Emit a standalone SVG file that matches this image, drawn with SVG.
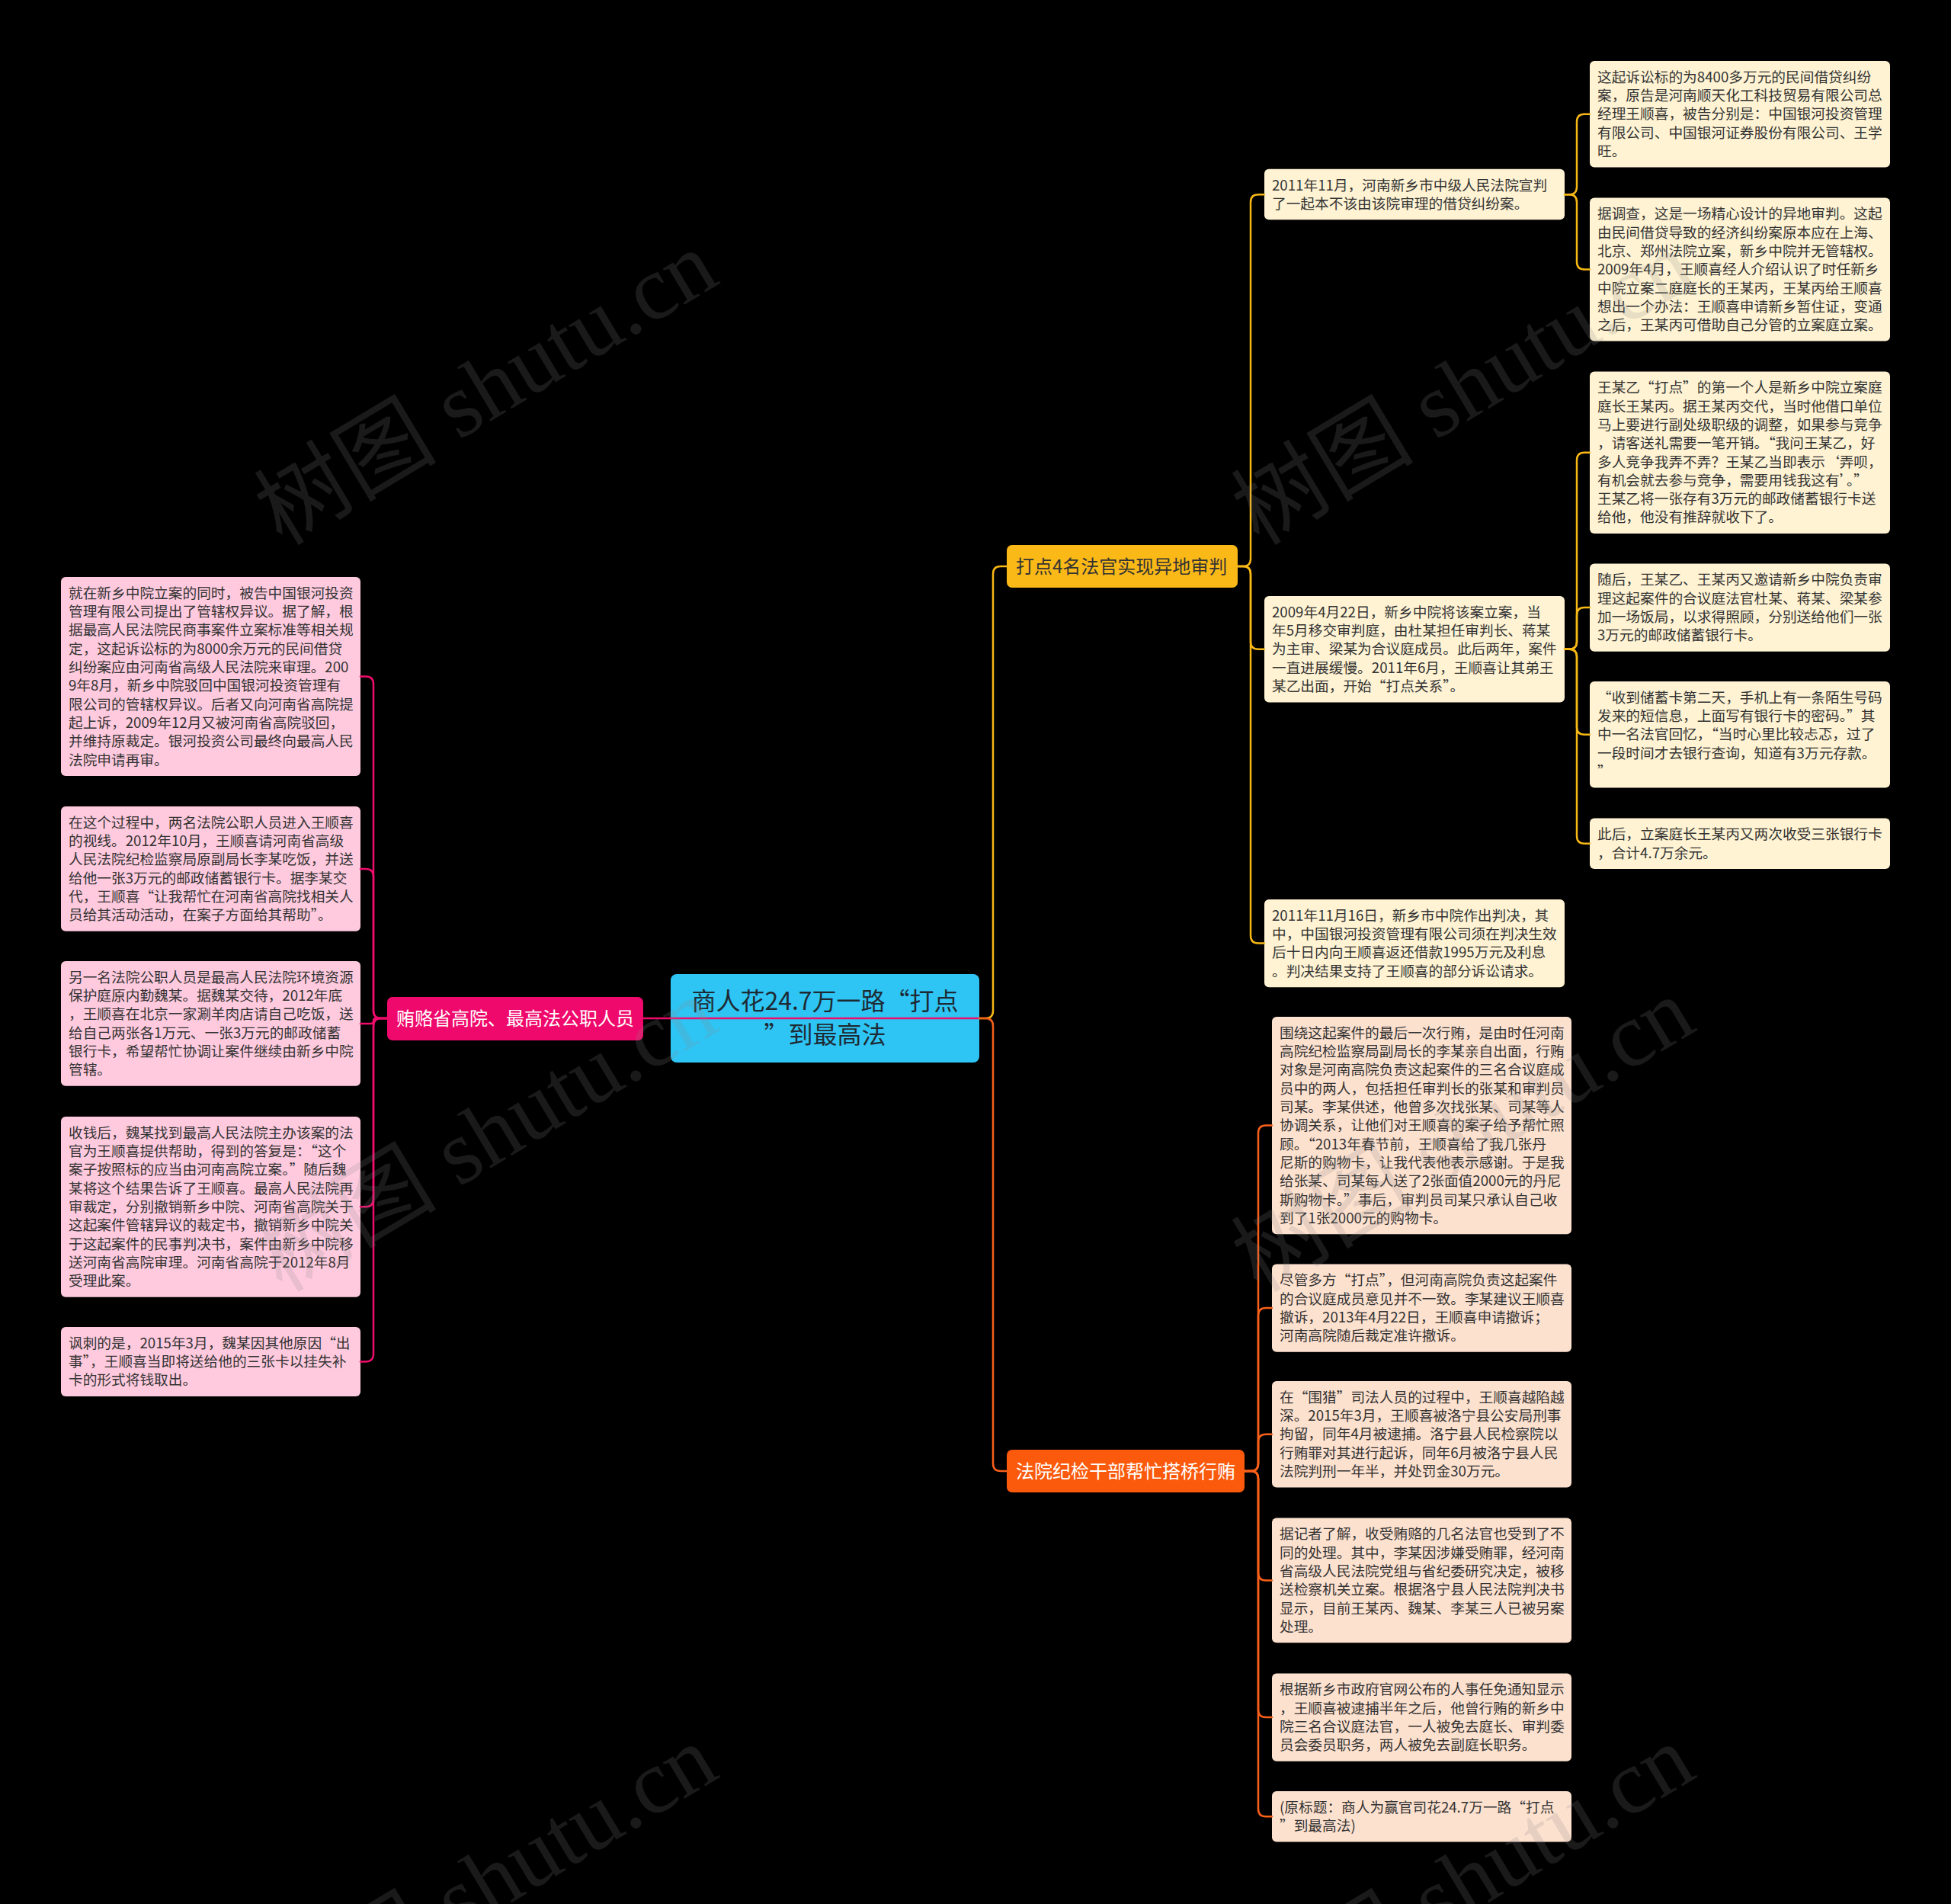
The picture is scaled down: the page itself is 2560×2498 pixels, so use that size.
<svg xmlns="http://www.w3.org/2000/svg" width="2560" height="2498" viewBox="0 0 2560 2498">
<style>
.t{font-family:"Noto Sans CJK SC","Noto Sans",sans-serif;font-size:18.7px;fill:#333}
.bt{font-family:"Noto Sans CJK SC","Noto Sans",sans-serif;font-size:24px}
.rt{font-family:"Noto Sans CJK SC","Noto Sans",sans-serif;font-size:32px;fill:#1e2a33}
.cream{fill:#fff3d3}
.peach{fill:#fde1cf}
.pink{fill:#ffcade}
.c{fill:none;stroke-width:2.5;stroke-linecap:round}
.y{stroke:#f8b816}
.o{stroke:#f9601a}
.p{stroke:#ef0d6c}
.wm{font-family:"Liberation Serif","Noto Sans CJK SC",serif;font-size:120px;fill:#888;opacity:0.19}
</style>
<rect width="2560" height="2498" fill="#000"/>

<g id="root">
<rect x="880" y="1278" width="405" height="116" rx="8" fill="#2ec5f5"/>
<text class="rt" text-anchor="middle"><tspan x="1082.5" y="1325">商人花24.7万一路“打点</tspan><tspan x="1082.5" y="1369">”到最高法</tspan></text>
</g>

<g id="branch-left">
<rect x="508" y="1308" width="336" height="57" rx="7" fill="#f0096c"/>
<text class="bt" x="520" y="1344.5" fill="#fff">贿赂省高院、最高法公职人员</text>
</g>
<g id="branch-1">
<rect x="1321" y="715" width="303" height="56" rx="7" fill="#fbb917"/>
<text class="bt" x="1333" y="751.5" fill="#333">打点4名法官实现异地审判</text>
</g>
<g id="branch-2">
<rect x="1321" y="1902" width="312" height="56" rx="7" fill="#fb5a0c"/>
<text class="bt" x="1333" y="1938.5" fill="#fff">法院纪检干部帮忙搭桥行贿</text>
</g>

<g id="m1"><rect class="cream" x="1659" y="221.7" width="394" height="66.6" rx="6"/>
<text class="t" x="1669" y="249.5">2011年11月，河南新乡市中级人民法院宣判<tspan x="1669" dy="24.3">了一起本不该由该院审理的借贷纠纷案。</tspan></text></g>
<g id="m2"><rect class="cream" x="1659" y="782" width="394" height="139.5" rx="6"/>
<text class="t" x="1669" y="809.8">2009年4月22日，新乡中院将该案立案，当<tspan x="1669" dy="24.3">年5月移交审判庭，由杜某担任审判长、蒋某</tspan><tspan x="1669" dy="24.3">为主审、梁某为合议庭成员。此后两年，案件</tspan><tspan x="1669" dy="24.3">一直进展缓慢。2011年6月，王顺喜让其弟王</tspan><tspan x="1669" dy="24.3">某乙出面，开始“打点关系”。</tspan></text></g>
<g id="m3"><rect class="cream" x="1659" y="1180" width="394" height="115.2" rx="6"/>
<text class="t" x="1669" y="1207.8">2011年11月16日，新乡市中院作出判决，其<tspan x="1669" dy="24.3">中，中国银河投资管理有限公司须在判决生效</tspan><tspan x="1669" dy="24.3">后十日内向王顺喜返还借款1995万元及利息</tspan><tspan x="1669" dy="24.3">。判决结果支持了王顺喜的部分诉讼请求。</tspan></text></g>

<g id="r1"><rect class="cream" x="2086" y="80" width="394" height="139.5" rx="6"/>
<text class="t" x="2096" y="107.8">这起诉讼标的为8400多万元的民间借贷纠纷<tspan x="2096" dy="24.3">案，原告是河南顺天化工科技贸易有限公司总</tspan><tspan x="2096" dy="24.3">经理王顺喜，被告分别是：中国银河投资管理</tspan><tspan x="2096" dy="24.3">有限公司、中国银河证券股份有限公司、王学</tspan><tspan x="2096" dy="24.3">旺。</tspan></text></g>
<g id="r2"><rect class="cream" x="2086" y="259.5" width="394" height="188.1" rx="6"/>
<text class="t" x="2096" y="287.3">据调查，这是一场精心设计的异地审判。这起<tspan x="2096" dy="24.3">由民间借贷导致的经济纠纷案原本应在上海、</tspan><tspan x="2096" dy="24.3">北京、郑州法院立案，新乡中院并无管辖权。</tspan><tspan x="2096" dy="24.3">2009年4月，王顺喜经人介绍认识了时任新乡</tspan><tspan x="2096" dy="24.3">中院立案二庭庭长的王某丙，王某丙给王顺喜</tspan><tspan x="2096" dy="24.3">想出一个办法：王顺喜申请新乡暂住证，变通</tspan><tspan x="2096" dy="24.3">之后，王某丙可借助自己分管的立案庭立案。</tspan></text></g>
<g id="r3"><rect class="cream" x="2086" y="487.5" width="394" height="212.4" rx="6"/>
<text class="t" x="2096" y="515.3">王某乙“打点”的第一个人是新乡中院立案庭<tspan x="2096" dy="24.3">庭长王某丙。据王某丙交代，当时他借口单位</tspan><tspan x="2096" dy="24.3">马上要进行副处级职级的调整，如果参与竞争</tspan><tspan x="2096" dy="24.3">，请客送礼需要一笔开销。“我问王某乙，好</tspan><tspan x="2096" dy="24.3">多人竞争我弄不弄？王某乙当即表示‘弄呗，</tspan><tspan x="2096" dy="24.3">有机会就去参与竞争，需要用钱我这有’。”</tspan><tspan x="2096" dy="24.3">王某乙将一张存有3万元的邮政储蓄银行卡送</tspan><tspan x="2096" dy="24.3">给他，他没有推辞就收下了。</tspan></text></g>
<g id="r4"><rect class="cream" x="2086" y="739.5" width="394" height="115.2" rx="6"/>
<text class="t" x="2096" y="767.3">随后，王某乙、王某丙又邀请新乡中院负责审<tspan x="2096" dy="24.3">理这起案件的合议庭法官杜某、蒋某、梁某参</tspan><tspan x="2096" dy="24.3">加一场饭局，以求得照顾，分别送给他们一张</tspan><tspan x="2096" dy="24.3">3万元的邮政储蓄银行卡。</tspan></text></g>
<g id="r5"><rect class="cream" x="2086" y="894" width="394" height="139.5" rx="6"/>
<text class="t" x="2096" y="921.8">“收到储蓄卡第二天，手机上有一条陌生号码<tspan x="2096" dy="24.3">发来的短信息，上面写有银行卡的密码。”其</tspan><tspan x="2096" dy="24.3">中一名法官回忆，“当时心里比较忐忑，过了</tspan><tspan x="2096" dy="24.3">一段时间才去银行查询，知道有3万元存款。</tspan><tspan x="2096" dy="24.3">”</tspan></text></g>
<g id="r6"><rect class="cream" x="2086" y="1073.5" width="394" height="66.6" rx="6"/>
<text class="t" x="2096" y="1101.3">此后，立案庭长王某丙又两次收受三张银行卡<tspan x="2096" dy="24.3">，合计4.7万余元。</tspan></text></g>

<g id="b1"><rect class="peach" x="1669" y="1334" width="393" height="285.3" rx="6"/>
<text class="t" x="1679" y="1361.8">围绕这起案件的最后一次行贿，是由时任河南<tspan x="1679" dy="24.3">高院纪检监察局副局长的李某亲自出面，行贿</tspan><tspan x="1679" dy="24.3">对象是河南高院负责这起案件的三名合议庭成</tspan><tspan x="1679" dy="24.3">员中的两人，包括担任审判长的张某和审判员</tspan><tspan x="1679" dy="24.3">司某。李某供述，他曾多次找张某、司某等人</tspan><tspan x="1679" dy="24.3">协调关系，让他们对王顺喜的案子给予帮忙照</tspan><tspan x="1679" dy="24.3">顾。“2013年春节前，王顺喜给了我几张丹</tspan><tspan x="1679" dy="24.3">尼斯的购物卡，让我代表他表示感谢。于是我</tspan><tspan x="1679" dy="24.3">给张某、司某每人送了2张面值2000元的丹尼</tspan><tspan x="1679" dy="24.3">斯购物卡。”事后，审判员司某只承认自己收</tspan><tspan x="1679" dy="24.3">到了1张2000元的购物卡。</tspan></text></g>
<g id="b2"><rect class="peach" x="1669" y="1658.5" width="393" height="115.2" rx="6"/>
<text class="t" x="1679" y="1686.3">尽管多方“打点”，但河南高院负责这起案件<tspan x="1679" dy="24.3">的合议庭成员意见并不一致。李某建议王顺喜</tspan><tspan x="1679" dy="24.3">撤诉，2013年4月22日，王顺喜申请撤诉；</tspan><tspan x="1679" dy="24.3">河南高院随后裁定准许撤诉。</tspan></text></g>
<g id="b3"><rect class="peach" x="1669" y="1812" width="393" height="139.5" rx="6"/>
<text class="t" x="1679" y="1839.8">在“围猎”司法人员的过程中，王顺喜越陷越<tspan x="1679" dy="24.3">深。2015年3月，王顺喜被洛宁县公安局刑事</tspan><tspan x="1679" dy="24.3">拘留，同年4月被逮捕。洛宁县人民检察院以</tspan><tspan x="1679" dy="24.3">行贿罪对其进行起诉，同年6月被洛宁县人民</tspan><tspan x="1679" dy="24.3">法院判刑一年半，并处罚金30万元。</tspan></text></g>
<g id="b4"><rect class="peach" x="1669" y="1991.5" width="393" height="163.8" rx="6"/>
<text class="t" x="1679" y="2019.3">据记者了解，收受贿赂的几名法官也受到了不<tspan x="1679" dy="24.3">同的处理。其中，李某因涉嫌受贿罪，经河南</tspan><tspan x="1679" dy="24.3">省高级人民法院党组与省纪委研究决定，被移</tspan><tspan x="1679" dy="24.3">送检察机关立案。根据洛宁县人民法院判决书</tspan><tspan x="1679" dy="24.3">显示，目前王某丙、魏某、李某三人已被另案</tspan><tspan x="1679" dy="24.3">处理。</tspan></text></g>
<g id="b5"><rect class="peach" x="1669" y="2195.5" width="393" height="115.2" rx="6"/>
<text class="t" x="1679" y="2223.3">根据新乡市政府官网公布的人事任免通知显示<tspan x="1679" dy="24.3">，王顺喜被逮捕半年之后，他曾行贿的新乡中</tspan><tspan x="1679" dy="24.3">院三名合议庭法官，一人被免去庭长、审判委</tspan><tspan x="1679" dy="24.3">员会委员职务，两人被免去副庭长职务。</tspan></text></g>
<g id="b6"><rect class="peach" x="1669" y="2350" width="393" height="66.6" rx="6"/>
<text class="t" x="1679" y="2377.8">(原标题：商人为赢官司花24.7万一路“打点<tspan x="1679" dy="24.3">”到最高法)</tspan></text></g>

<g id="l1"><rect class="pink" x="80" y="757" width="393" height="261" rx="6"/>
<text class="t" x="90" y="784.8">就在新乡中院立案的同时，被告中国银河投资<tspan x="90" dy="24.3">管理有限公司提出了管辖权异议。据了解，根</tspan><tspan x="90" dy="24.3">据最高人民法院民商事案件立案标准等相关规</tspan><tspan x="90" dy="24.3">定，这起诉讼标的为8000余万元的民间借贷</tspan><tspan x="90" dy="24.3">纠纷案应由河南省高级人民法院来审理。200</tspan><tspan x="90" dy="24.3">9年8月，新乡中院驳回中国银河投资管理有</tspan><tspan x="90" dy="24.3">限公司的管辖权异议。后者又向河南省高院提</tspan><tspan x="90" dy="24.3">起上诉，2009年12月又被河南省高院驳回，</tspan><tspan x="90" dy="24.3">并维持原裁定。银河投资公司最终向最高人民</tspan><tspan x="90" dy="24.3">法院申请再审。</tspan></text></g>
<g id="l2"><rect class="pink" x="80" y="1058" width="393" height="163.8" rx="6"/>
<text class="t" x="90" y="1085.8">在这个过程中，两名法院公职人员进入王顺喜<tspan x="90" dy="24.3">的视线。2012年10月，王顺喜请河南省高级</tspan><tspan x="90" dy="24.3">人民法院纪检监察局原副局长李某吃饭，并送</tspan><tspan x="90" dy="24.3">给他一张3万元的邮政储蓄银行卡。据李某交</tspan><tspan x="90" dy="24.3">代，王顺喜“让我帮忙在河南省高院找相关人</tspan><tspan x="90" dy="24.3">员给其活动活动，在案子方面给其帮助”。</tspan></text></g>
<g id="l3"><rect class="pink" x="80" y="1261" width="393" height="163.8" rx="6"/>
<text class="t" x="90" y="1288.8">另一名法院公职人员是最高人民法院环境资源<tspan x="90" dy="24.3">保护庭原内勤魏某。据魏某交待，2012年底</tspan><tspan x="90" dy="24.3">，王顺喜在北京一家涮羊肉店请自己吃饭，送</tspan><tspan x="90" dy="24.3">给自己两张各1万元、一张3万元的邮政储蓄</tspan><tspan x="90" dy="24.3">银行卡，希望帮忙协调让案件继续由新乡中院</tspan><tspan x="90" dy="24.3">管辖。</tspan></text></g>
<g id="l4"><rect class="pink" x="80" y="1465" width="393" height="236.7" rx="6"/>
<text class="t" x="90" y="1492.8">收钱后，魏某找到最高人民法院主办该案的法<tspan x="90" dy="24.3">官为王顺喜提供帮助，得到的答复是：“这个</tspan><tspan x="90" dy="24.3">案子按照标的应当由河南高院立案。”随后魏</tspan><tspan x="90" dy="24.3">某将这个结果告诉了王顺喜。最高人民法院再</tspan><tspan x="90" dy="24.3">审裁定，分别撤销新乡中院、河南省高院关于</tspan><tspan x="90" dy="24.3">这起案件管辖异议的裁定书，撤销新乡中院关</tspan><tspan x="90" dy="24.3">于这起案件的民事判决书，案件由新乡中院移</tspan><tspan x="90" dy="24.3">送河南省高院审理。河南省高院于2012年8月</tspan><tspan x="90" dy="24.3">受理此案。</tspan></text></g>
<g id="l5"><rect class="pink" x="80" y="1741" width="393" height="90.9" rx="6"/>
<text class="t" x="90" y="1768.8">讽刺的是，2015年3月，魏某因其他原因“出<tspan x="90" dy="24.3">事”，王顺喜当即将送给他的三张卡以挂失补</tspan><tspan x="90" dy="24.3">卡的形式将钱取出。</tspan></text></g>

<g id="connectors">
<path class="c p" d="M1285,1336 H844"/>
<path class="c y" d="M1285,1336 H1293 Q1303,1336 1303,1326 V753 Q1303,743 1313,743 H1321"/>
<path class="c o" d="M1285,1336 H1293 Q1303,1336 1303,1346 V1920 Q1303,1930 1313,1930 H1321"/>

<path class="c y" d="M1624,743 H1631 Q1641,743 1641,733 V265.3 Q1641,255.3 1651,255.3 H1659"/>
<path class="c y" d="M1624,743 H1631 Q1641,743 1641,753 V841.75 Q1641,851.75 1651,851.75 H1659"/>
<path class="c y" d="M1624,743 H1631 Q1641,743 1641,753 V1227.6 Q1641,1237.6 1651,1237.6 H1659"/>

<path class="c y" d="M2053,255.3 H2059 Q2069,255.3 2069,245.3 V159.75 Q2069,149.75 2079,149.75 H2086"/>
<path class="c y" d="M2053,255.3 H2059 Q2069,255.3 2069,265.3 V343.55 Q2069,353.55 2079,353.55 H2086"/>

<path class="c y" d="M2053,851.75 H2059 Q2069,851.75 2069,841.75 V603.7 Q2069,593.7 2079,593.7 H2086"/>
<path class="c y" d="M2053,851.75 H2059 Q2069,851.75 2069,841.75 V807.1 Q2069,797.1 2079,797.1 H2086"/>
<path class="c y" d="M2053,851.75 H2059 Q2069,851.75 2069,861.75 V953.75 Q2069,963.75 2079,963.75 H2086"/>
<path class="c y" d="M2053,851.75 H2059 Q2069,851.75 2069,861.75 V1096.8 Q2069,1106.8 2079,1106.8 H2086"/>

<path class="c o" d="M1633,1930 H1641 Q1651,1930 1651,1920 V1486.6 Q1651,1476.6 1661,1476.6 H1669"/>
<path class="c o" d="M1633,1930 H1641 Q1651,1930 1651,1920 V1726.1 Q1651,1716.1 1661,1716.1 H1669"/>
<path class="c o" d="M1633,1930 H1641 Q1651,1930 1651,1920 V1891.75 Q1651,1881.75 1661,1881.75 H1669"/>
<path class="c o" d="M1633,1930 H1641 Q1651,1930 1651,1940 V2063.4 Q1651,2073.4 1661,2073.4 H1669"/>
<path class="c o" d="M1633,1930 H1641 Q1651,1930 1651,1940 V2243.1 Q1651,2253.1 1661,2253.1 H1669"/>
<path class="c o" d="M1633,1930 H1641 Q1651,1930 1651,1940 V2373.3 Q1651,2383.3 1661,2383.3 H1669"/>

<path class="c p" d="M508,1336 H500 Q490,1336 490,1326 V897.5 Q490,887.5 480,887.5 H473"/>
<path class="c p" d="M508,1336 H500 Q490,1336 490,1326 V1149.9 Q490,1139.9 480,1139.9 H473"/>
<path class="c p" d="M508,1336 H493.5 Q490,1336 490,1339.45 Q490,1342.9 486.5,1342.9 H473"/>
<path class="c p" d="M508,1336 H500 Q490,1336 490,1346 V1573.35 Q490,1583.35 480,1583.35 H473"/>
<path class="c p" d="M508,1336 H500 Q490,1336 490,1346 V1776.45 Q490,1786.45 480,1786.45 H473"/>
</g>

<g id="watermarks">
<text class="wm" transform="translate(370,717) rotate(-31)">树图 shutu.cn</text>
<text class="wm" transform="translate(1652,717) rotate(-31)">树图 shutu.cn</text>
<text class="wm" transform="translate(370,1697) rotate(-31)">树图 shutu.cn</text>
<text class="wm" transform="translate(1652,1697) rotate(-31)">树图 shutu.cn</text>
<text class="wm" transform="translate(370,2677) rotate(-31)">树图 shutu.cn</text>
<text class="wm" transform="translate(1652,2677) rotate(-31)">树图 shutu.cn</text>
</g>
</svg>
